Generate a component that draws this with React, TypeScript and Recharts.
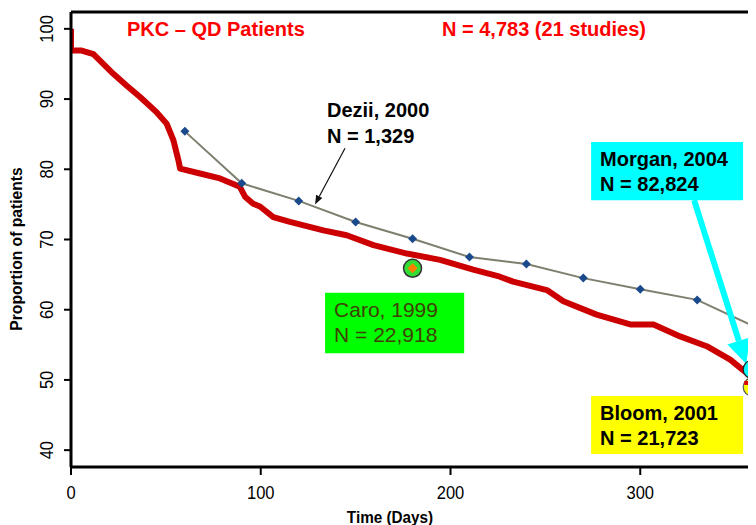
import React from 'react';
import { ComposedChart, Line, Scatter, XAxis, YAxis, ReferenceLine, ReferenceArea } from 'recharts';

// Kaplan-Meier style persistence curve (PKC – QD patients)
const kmDays = [0, 0, 5.6, 11.8, 17, 22.3, 29.4, 36.4, 45.2, 50.4, 54, 56.6, 57.5, 68, 78.5, 89, 91.7, 96, 99.6, 106.6, 115.4, 133, 145.3, 159.4, 177, 194.5, 212, 226, 233, 250.8, 259.5, 277, 294.7, 307, 321, 335, 347.4, 356, 357.5];
const kmValues = [100, 96.9, 96.9, 96.4, 95, 93.6, 91.9, 90.3, 88.1, 86.5, 84.1, 81.3, 80.1, 79.4, 78.7, 77.5, 76.1, 75.1, 74.7, 73.2, 72.5, 71.3, 70.6, 69.2, 68, 67.1, 65.7, 64.7, 64, 62.8, 61.2, 59.3, 57.9, 57.9, 56.2, 54.8, 52.9, 51, 50.6];

// Dezii, 2000
const deziiDays = [60, 90, 120, 150, 180, 210, 240, 270, 300, 330, 360];
const deziiValues = [85.4, 78, 75.5, 72.5, 70.1, 67.5, 66.5, 64.5, 62.9, 61.4, 57.6];

// single-point studies
const caroPoint = [{ day: 180, value: 65.9 }];
const morganPoint = [{ day: 359, value: 51.5 }];
const bloomPoint = [{ day: 359, value: 49.0 }];

const xTicks = [0, 100, 200, 300];
const yTicks = [40, 50, 60, 70, 80, 90, 100];
const xDomain = [0, 361];
const yDomain = [37.6, 102.4];

const kmData = kmDays.map((d, i) => ({ day: d, value: kmValues[i] }));
const deziiData = deziiDays.map((d, i) => ({ day: d, value: deziiValues[i] }));

const FONT = "'Liberation Sans', Arial, sans-serif";

const YTick = (props: any) => {
  const { x, y, payload } = props;
  const cx = x - 16;
  return (
    <text
      transform={`translate(${cx},${y}) rotate(-90) scale(0.87,1)`}
      textAnchor="middle"
      dy="0.36em"
      fontSize={19}
      fontFamily={FONT}
      fill="#000"
    >
      {payload.value}
    </text>
  );
};

const XTick = (props: any) => {
  const { x, y, payload } = props;
  return (
    <text
      transform={`translate(${x},${y + 22}) scale(0.87,1)`}
      textAnchor="middle"
      fontSize={19}
      fontFamily={FONT}
      fill="#000"
    >
      {payload.value}
    </text>
  );
};

const diamond = (cx: number, cy: number, r: number, fill: string) => (
  <polygon points={`${cx},${cy - r} ${cx + r},${cy} ${cx},${cy + r} ${cx - r},${cy}`} fill={fill} />
);

const DeziiDot = (props: any) => {
  const { cx, cy } = props;
  if (cx == null || cy == null) return null;
  return diamond(cx, cy, 4.5, '#1a4a8c');
};

const CaroShape = (props: any) => {
  const { cx, cy } = props;
  return (
    <g>
      <circle cx={cx} cy={cy} r={9} fill="#33dd33" stroke="#333" strokeWidth={1.5} />
      {diamond(cx, cy, 5, '#ff7f00')}
    </g>
  );
};

const MorganShape = (props: any) => {
  const { cx, cy } = props;
  return (
    <g>
      <circle cx={cx} cy={cy} r={9} fill="#00ffff" stroke="#222" strokeWidth={1.2} />
      {diamond(cx, cy + 1, 4.5, '#000')}
    </g>
  );
};

const BloomShape = (props: any) => {
  const { cx, cy } = props;
  return (
    <g>
      <circle cx={cx} cy={cy} r={9} fill="#ffff00" stroke="#555" strokeWidth={1.2} />
      <rect x={cx - 8} y={cy - 6} width={16} height={4} fill="#dd0000" />
      {diamond(cx, cy + 2, 4.5, '#119911')}
    </g>
  );
};

const makeArrow = (color: string, width: number, headLen: number, headHalf: number) => (props: any) => {
  const { x1, y1, x2, y2 } = props;
  const dx = x2 - x1;
  const dy = y2 - y1;
  const len = Math.sqrt(dx * dx + dy * dy) || 1;
  const ux = dx / len;
  const uy = dy / len;
  const bx = x2 - ux * headLen;
  const by = y2 - uy * headLen;
  const px = -uy;
  const py = ux;
  return (
    <g>
      <line x1={x1} y1={y1} x2={bx} y2={by} stroke={color} strokeWidth={width} />
      <polygon
        points={`${x2},${y2} ${bx + px * headHalf},${by + py * headHalf} ${bx - px * headHalf},${by - py * headHalf}`}
        fill={color}
      />
    </g>
  );
};

const boxLabel = (lines: string[], color: string, bold: boolean, size: number) => (props: any) => {
  const vb = props.viewBox || {};
  return (
    <g>
      {lines.map((t, i) => (
        <text
          key={i}
          x={vb.x + 9}
          y={vb.y + 24 + i * 25}
          fontSize={size}
          fontWeight={bold ? 'bold' : 'normal'}
          fontFamily={FONT}
          fill={color}
        >
          {t}
        </text>
      ))}
    </g>
  );
};

export default function App() {
  return (
    <div style={{ width: 748, height: 517, overflow: 'hidden' }}>
      <ComposedChart width={748} height={517} margin={{ top: 4, right: 0, bottom: 0, left: 0 }}>
        <XAxis
          type="number"
          dataKey="day"
          domain={xDomain}
          ticks={xTicks}
          allowDataOverflow
          height={58}
          axisLine={{ stroke: '#000', strokeWidth: 3 }}
          tickLine={{ stroke: '#000', strokeWidth: 2 }}
          tickSize={8}
          tick={<XTick />}
        />
        <YAxis
          type="number"
          dataKey="value"
          domain={yDomain}
          ticks={yTicks}
          allowDataOverflow
          width={63}
          axisLine={{ stroke: '#000', strokeWidth: 3 }}
          tickLine={{ stroke: '#000', strokeWidth: 2 }}
          tickSize={7}
          tick={<YTick />}
        />
        <ReferenceLine y={102.4} stroke="#000" strokeWidth={3} ifOverflow="extendDomain" />

        <ReferenceArea x1={274.1} x2={354.2} y1={75.6} y2={83.9} fill="#00ffff" fillOpacity={1} stroke="none"
          label={boxLabel(['Morgan, 2004', 'N = 82,824'], '#000', true, 20)} />
        <ReferenceArea x1={274.1} x2={354.2} y1={39.45} y2={47.7} fill="#ffff00" fillOpacity={1} stroke="none"
          label={boxLabel(['Bloom, 2001', 'N = 21,723'], '#000', true, 20)} />
        <ReferenceArea x1={133.9} x2={207.2} y1={53.8} y2={62.4} fill="#00ff00" fillOpacity={1} stroke="none"
          label={boxLabel(['Caro, 1999', 'N = 22,918'], '#404000', false, 21)} />

        <Line data={kmData} dataKey="value" type="linear" stroke="#cc0000" strokeWidth={6} dot={false}
          isAnimationActive={false} strokeLinejoin="round" />
        <Line data={deziiData} dataKey="value" type="linear" stroke="#7f7f70" strokeWidth={2}
          dot={<DeziiDot />} activeDot={false} isAnimationActive={false} />

        <Scatter data={caroPoint} dataKey="value" shape={<CaroShape />} isAnimationActive={false} />
        <Scatter data={bloomPoint} dataKey="value" shape={<BloomShape />} isAnimationActive={false} />
        <Scatter data={morganPoint} dataKey="value" shape={<MorganShape />} isAnimationActive={false} />

        <ReferenceLine segment={[{ x: 144.4, y: 83 }, { x: 128.6, y: 75 }]} shape={makeArrow('#111', 1.2, 9, 3.5)} />
        <ReferenceLine segment={[{ x: 328.4, y: 75.6 }, { x: 355.8, y: 52.3 }]} shape={makeArrow('#00ffff', 6, 24, 12)} />

        <text x={119} y={28} fontSize={20} fontWeight="bold" fontFamily={FONT} fill="#ff0000">PKC – QD Patients</text>
        <text x={434} y={28} fontSize={20} fontWeight="bold" fontFamily={FONT} fill="#ff0000">N = 4,783 (21 studies)</text>
        <text x={319} y={109} fontSize={20} fontWeight="bold" fontFamily={FONT} fill="#000">Dezii, 2000</text>
        <text x={319} y={135} fontSize={20} fontWeight="bold" fontFamily={FONT} fill="#000">N = 1,329</text>
        <text transform="translate(8,241) rotate(-90) scale(0.92,1)" textAnchor="middle" dy="0.36em" fontSize={17}
          fontWeight="bold" fontFamily={FONT} fill="#000">Proportion of patients</text>
        <text transform="translate(382,515) scale(0.9,1)" textAnchor="middle" fontSize={17}
          fontWeight="bold" fontFamily={FONT} fill="#000">Time (Days)</text>
      </ComposedChart>
    </div>
  );
}
